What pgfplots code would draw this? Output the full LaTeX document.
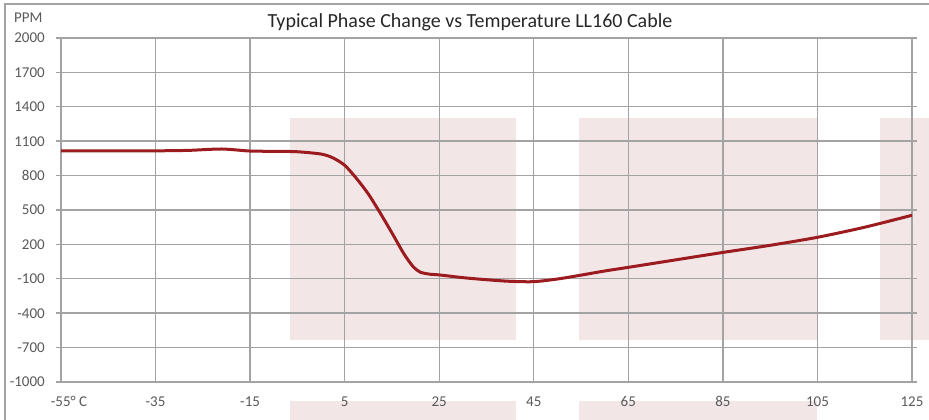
\documentclass[border=0pt]{standalone}
\usepackage{fontspec}
\setmainfont{Carlito}
\usepackage{pgfplots}
\pgfplotsset{compat=1.18}
\definecolor{gridgray}{RGB}{163,163,163}
\definecolor{pinkbg}{RGB}{243,230,231}
\definecolor{curvered}{RGB}{155,27,31}
\definecolor{labelgray}{RGB}{89,89,89}
\definecolor{titlecol}{RGB}{38,38,38}
\begin{document}
\begin{tikzpicture}
\useasboundingbox (0bp,0bp) rectangle (929bp,420bp);
\begin{scope}[x=1bp,y=1bp]
\clip (0,0) rectangle (929,420);
\fill[pinkbg] (290,301.5) rectangle (516,80);
\fill[pinkbg] (579,301.5) rectangle (817,80);
\fill[pinkbg] (880,301.5) rectangle (940,80);
\fill[pinkbg] (290,18.5) rectangle (516,-10);
\fill[pinkbg] (579,18.5) rectangle (817,-10);
\draw[gridgray, line width=1.4bp] (5,-10) -- (5,416) -- (940,416);
\end{scope}
\begin{axis}[
  at={(61bp,38bp)}, anchor=south west,
  width=851bp, height=344bp, scale only axis,
  xmin=-55, xmax=125, ymin=-1000, ymax=2000,
  xtick={-55,-35,...,125},
  xticklabels={\hspace*{16bp}-55° C,-35,-15,5,25,45,65,85,105,125},
  ytick={-1000,-700,...,2000},
  yticklabels={-1000,-700,-400,-100,200,500,800,1100,1400,1700,2000},
  grid=major,
  major grid style={gridgray, line width=1.4bp},
  axis line style={gridgray, line width=1.4bp},
  xtick style={draw=none},
  ytick style={gridgray, line width=1.4bp},
  tick align=outside,
  major tick length=5bp,
  ticklabel style={font=\fontsize{15bp}{18bp}\selectfont, text=labelgray},
  xticklabel style={anchor=north, inner sep=0pt, yshift=-9.5bp},
  yticklabel style={anchor=east, inner sep=0pt, xshift=-11bp},
]
\addplot[curvered, line width=3bp, smooth, tension=0.45] coordinates {
(-55,1015) (-45,1015) (-35,1016) (-28,1020) (-21,1032) (-15,1014) (-10,1012)
(-5,1008) (0,988) (2.5,955) (5,890) (7.5,775) (10,640) (12.5,475) (15,300)
(17.5,120) (19.5,5) (21,-42) (23,-60) (25,-66) (30,-90) (35,-108)
(40,-122) (45,-125) (50,-102) (55,-68) (60,-32) (65,0) (75,65) (85,130)
(95,192) (105,262) (115,350) (125,454)
};
\end{axis}
\node[anchor=base, inner sep=0pt, font=\fontsize{20bp}{24bp}\selectfont, text=titlecol] at (470bp,392bp) {Typical Phase Change vs Temperature LL160 Cable};
\node[anchor=base west, inner sep=0pt, font=\fontsize{15bp}{18bp}\selectfont, text=labelgray] at (14bp,397bp) {PPM};
\end{tikzpicture}
\end{document}
